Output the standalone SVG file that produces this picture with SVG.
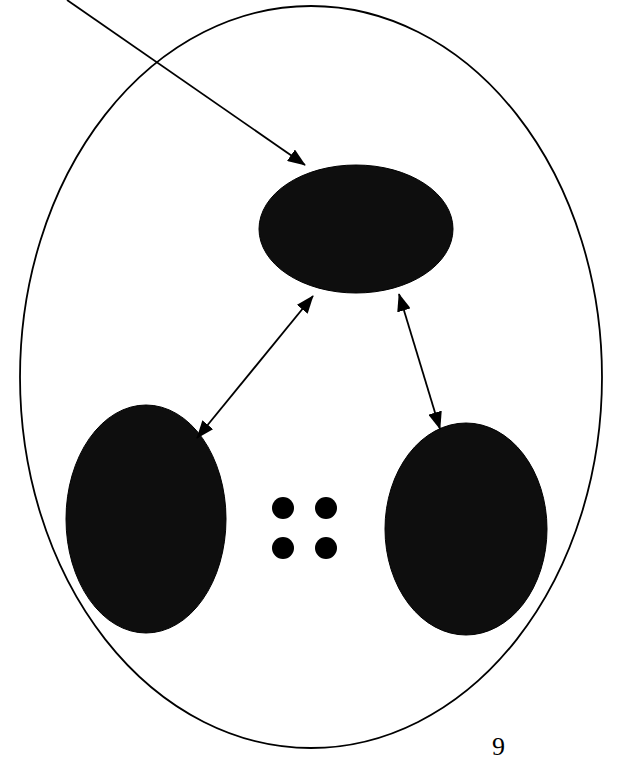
<svg xmlns="http://www.w3.org/2000/svg" width="622" height="762" viewBox="0 0 622 762">
<style>
.outer{fill:none;stroke:#000;stroke-width:1.8}
.node{fill:#0e0e0e;stroke:#000;stroke-width:1}
.dot{fill:#000}
.conn{fill:none;stroke:#000;stroke-width:1.8}
.page{font-family:"Liberation Serif",serif;font-size:26px;fill:#000}
</style>
<defs>
<marker id="ah" viewBox="0 0 10 10" refX="9.5" refY="5" markerWidth="18" markerHeight="14" markerUnits="userSpaceOnUse" orient="auto-start-reverse" preserveAspectRatio="none">
<path d="M0,0 L10,5 L0,10 Z" fill="#000"/>
</marker>
</defs>
<rect width="622" height="762" fill="#fff"/>
<g id="container">
<ellipse class="outer" cx="311" cy="377" rx="291" ry="371"/>
</g>
<g id="node-top">
<ellipse class="node" cx="356" cy="229" rx="97" ry="64"/>
</g>
<g id="node-left">
<ellipse class="node" cx="146" cy="519" rx="80" ry="114"/>
</g>
<g id="node-right">
<ellipse class="node" cx="466" cy="529" rx="81" ry="106"/>
</g>
<g id="ellipsis">
<circle class="dot" cx="283" cy="508" r="11"/>
<circle class="dot" cx="326" cy="508" r="11"/>
<circle class="dot" cx="283" cy="548" r="11"/>
<circle class="dot" cx="326" cy="548" r="11"/>
</g>
<g id="connectors">
<line class="conn" x1="67" y1="0" x2="305" y2="165" marker-end="url(#ah)"/>
<line class="conn" x1="313" y1="296" x2="197" y2="438" marker-start="url(#ah)" marker-end="url(#ah)"/>
<line class="conn" x1="399" y1="294" x2="440" y2="429" marker-start="url(#ah)" marker-end="url(#ah)"/>
</g>
<text class="page" x="492" y="755">9</text>
</svg>
